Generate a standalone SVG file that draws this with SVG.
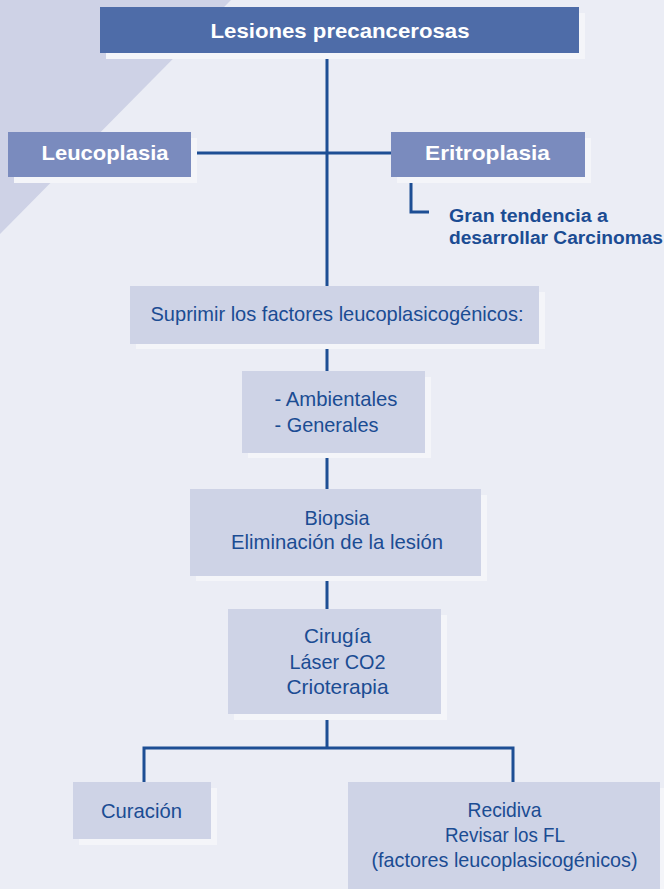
<svg xmlns="http://www.w3.org/2000/svg" width="664" height="889" viewBox="0 0 664 889">
<style>
.sh{fill:#F4F5F9}
.n0{fill:#4E6CA8}
.n1{fill:#7A8BBE}
.n2{fill:#CED3E6}
.tb{font-family:"Liberation Sans",Arial,sans-serif;font-weight:bold;font-size:21px;fill:#FFFFFF}
.tn{font-family:"Liberation Sans",Arial,sans-serif;font-size:21px;fill:#1B4C93}
.tg{font-family:"Liberation Sans",Arial,sans-serif;font-weight:bold;font-size:18px;fill:#1B4C93}
.c{fill:none;stroke:#1D4E94;stroke-width:3}
</style>
<rect width="664" height="889" fill="#EBEDF5"/>
<polygon points="0,0 231,0 0,234" fill="#CED2E6"/>
<g id="connectors">
<path class="c" d="M327,59 V286 M197,153 H391"/>
<path class="c" d="M411,182 V212 H429" stroke-width="2.5"/>
<path class="c" d="M327,349 V371 M327,458 V489 M327,581 V609 M327,720 V748 M144,782 V748 H513 V782"/>
</g>
<g id="n-lesiones">
<rect class="sh" x="106" y="13" width="479" height="46"/>
<rect class="n0" x="100" y="7" width="479" height="46"/>
<text class="tb" x="340" y="38" text-anchor="middle" textLength="259" lengthAdjust="spacingAndGlyphs">Lesiones precancerosas</text>
</g>
<g id="n-leucoplasia">
<rect class="sh" x="14" y="138" width="183" height="45"/>
<rect class="n1" x="8" y="132" width="183" height="45"/>
<text class="tb" x="105" y="160" text-anchor="middle" textLength="127" lengthAdjust="spacingAndGlyphs">Leucoplasia</text>
</g>
<g id="n-eritroplasia">
<rect class="sh" x="397" y="138" width="194" height="45"/>
<rect class="n1" x="391" y="132" width="194" height="45"/>
<text class="tb" x="487.5" y="160" text-anchor="middle" textLength="125" lengthAdjust="spacingAndGlyphs">Eritroplasia</text>
</g>
<g id="n-tendencia">
<text class="tg" x="449" y="222" textLength="159" lengthAdjust="spacingAndGlyphs">Gran tendencia a</text>
<text class="tg" x="449" y="244" textLength="214" lengthAdjust="spacingAndGlyphs">desarrollar Carcinomas</text>
</g>
<g id="n-suprimir">
<rect class="sh" x="136" y="292" width="409" height="57"/>
<rect class="n2" x="130" y="286" width="409" height="58"/>
<text class="tn" x="337" y="321" text-anchor="middle" textLength="373" lengthAdjust="spacingAndGlyphs">Suprimir los factores leucoplasicogénicos:</text>
</g>
<g id="n-factores">
<rect class="sh" x="248" y="377" width="183" height="81"/>
<rect class="n2" x="242" y="371" width="183" height="82"/>
<text class="tn" x="274.5" y="406" textLength="123" lengthAdjust="spacingAndGlyphs">- Ambientales</text>
<text class="tn" x="274.5" y="432" textLength="104" lengthAdjust="spacingAndGlyphs">- Generales</text>
</g>
<g id="n-biopsia">
<rect class="sh" x="196" y="495" width="291" height="86"/>
<rect class="n2" x="190" y="489" width="291" height="87"/>
<text class="tn" x="337" y="525" text-anchor="middle" textLength="65" lengthAdjust="spacingAndGlyphs">Biopsia</text>
<text class="tn" x="337" y="549" text-anchor="middle" textLength="212" lengthAdjust="spacingAndGlyphs">Eliminación de la lesión</text>
</g>
<g id="n-cirugia">
<rect class="sh" x="234" y="615" width="213" height="105"/>
<rect class="n2" x="228" y="609" width="213" height="105"/>
<text class="tn" x="337.5" y="643" text-anchor="middle" textLength="67" lengthAdjust="spacingAndGlyphs">Cirugía</text>
<text class="tn" x="337.5" y="669" text-anchor="middle" textLength="96" lengthAdjust="spacingAndGlyphs">Láser CO2</text>
<text class="tn" x="337.5" y="694" text-anchor="middle" textLength="102" lengthAdjust="spacingAndGlyphs">Crioterapia</text>
</g>
<g id="n-curacion">
<rect class="sh" x="79" y="788" width="138" height="57"/>
<rect class="n2" x="73" y="782" width="138" height="57"/>
<text class="tn" x="141.5" y="818" text-anchor="middle" textLength="81" lengthAdjust="spacingAndGlyphs">Curación</text>
</g>
<g id="n-recidiva">
<rect class="sh" x="354" y="788" width="310" height="101"/>
<rect class="n2" x="348" y="782" width="312" height="107"/>
<text class="tn" x="504.5" y="817" text-anchor="middle" textLength="74" lengthAdjust="spacingAndGlyphs">Recidiva</text>
<text class="tn" x="505" y="842" text-anchor="middle" textLength="120" lengthAdjust="spacingAndGlyphs">Revisar los FL</text>
<text class="tn" x="504.5" y="867" text-anchor="middle" textLength="266" lengthAdjust="spacingAndGlyphs">(factores leucoplasicogénicos)</text>
</g>
</svg>
